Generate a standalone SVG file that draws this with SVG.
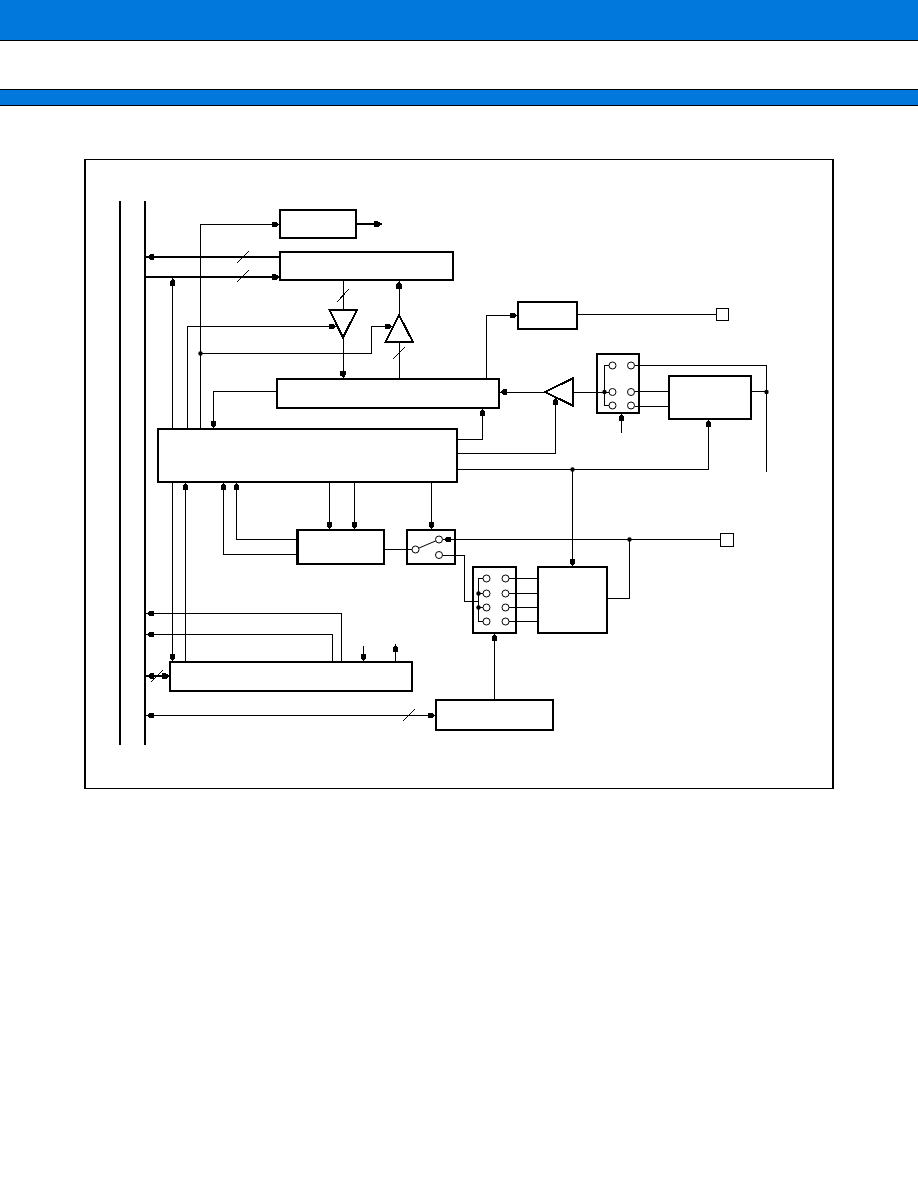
<svg xmlns="http://www.w3.org/2000/svg" width="918" height="1188" viewBox="0 0 918 1188" shape-rendering="crispEdges">
<style>
.box{fill:#fff;stroke:#000;stroke-width:2}
.sq{fill:#fff;stroke:#000;stroke-width:1}
.w{fill:none;stroke:#000;stroke-width:1}
.t{fill:none;stroke:#000;stroke-width:2}
.a{marker-end:url(#ah)}
.b{marker-start:url(#ahs);marker-end:url(#ah)}
.c{fill:#fff;stroke:#000;stroke-width:1;shape-rendering:auto}
.d{fill:#000;shape-rendering:auto}
.bar{fill:#0078dc;stroke:#000;stroke-width:1}
</style>
<defs>
<marker id="ah" markerUnits="userSpaceOnUse" markerWidth="9" markerHeight="8" refX="8" refY="4" orient="auto"><path d="M0 1.2L4.500 1.500L7 4L4.500 6.500L0 6.800Z" fill="#000"/></marker>
<marker id="ahs" markerUnits="userSpaceOnUse" markerWidth="9" markerHeight="8" refX="8" refY="4" orient="auto-start-reverse"><path d="M0 1.2L4.500 1.500L7 4L4.500 6.500L0 6.800Z" fill="#000"/></marker>
</defs>
<rect width="918" height="1188" fill="#fff"/>
<g id="header">
<rect x="-2" y="-2" width="922" height="42.5" class="bar"/>
<rect x="-2" y="89.5" width="922" height="16" class="bar"/>
</g>
<rect id="frame" x="85" y="159.5" width="748" height="629" fill="none" stroke="#000" stroke-width="1.500"/>
<g id="node-top"><rect class="box" x="280" y="210" width="76" height="28"/></g>
<g id="node-register"><rect class="box" x="280" y="252" width="173" height="28"/></g>
<g id="node-buffer-down"><path class="box" d="M329.500 310H357L343 337.500Z"/></g>
<g id="node-buffer-up"><path class="box" d="M385.500 342H413L399 315Z"/></g>
<g id="node-dac-register"><rect class="box" x="277" y="379" width="222" height="29"/></g>
<g id="node-control"><rect class="box" x="158" y="429" width="299" height="53"/></g>
<g id="node-output"><rect class="box" x="518" y="302" width="59" height="27"/></g>
<g id="node-pin-1"><rect class="sq" x="716" y="308" width="12" height="12"/></g>
<g id="node-comparator"><path class="box" d="M572.500 378.500V405.500L545 392Z"/></g>
<g id="node-mux-1">
<rect class="box" x="597" y="354" width="42" height="59"/>
<circle class="c" cx="612.500" cy="365.500" r="3.500"/><circle class="c" cx="631" cy="365.500" r="3.500"/>
<circle class="c" cx="612.500" cy="392" r="3.500"/><circle class="c" cx="631" cy="392" r="3.500"/>
<circle class="c" cx="612.500" cy="405.500" r="3.500"/><circle class="c" cx="631" cy="405.500" r="3.500"/>
</g>
<g id="node-ladder-1"><rect class="box" x="669" y="376" width="82" height="43"/></g>
<g id="node-timer"><rect class="box" style="stroke-width:2.500" x="297.500" y="530" width="86.500" height="34"/></g>
<g id="node-switch">
<rect class="box" x="407" y="530" width="48" height="34"/>
<path class="w" style="shape-rendering:auto" d="M415.500 549.500L439 539.500"/>
<circle class="c" cx="415.500" cy="549.500" r="3.500"/>
<circle class="c" cx="439" cy="539.500" r="3.500"/>
<circle class="c" cx="439" cy="555" r="3.500"/>
</g>
<g id="node-mux-2">
<rect class="box" x="473" y="567" width="43" height="66"/>
<circle class="c" cx="486.500" cy="578.500" r="3.500"/><circle class="c" cx="505.500" cy="578.500" r="3.500"/>
<circle class="c" cx="486.500" cy="593.500" r="3.500"/><circle class="c" cx="505.500" cy="593.500" r="3.500"/>
<circle class="c" cx="486.500" cy="607.500" r="3.500"/><circle class="c" cx="505.500" cy="607.500" r="3.500"/>
<circle class="c" cx="486.500" cy="621.500" r="3.500"/><circle class="c" cx="505.500" cy="621.500" r="3.500"/>
</g>
<g id="node-ladder-2"><rect class="box" x="538" y="567" width="69" height="66"/></g>
<g id="node-pin-2"><rect class="sq" x="720.500" y="533.500" width="13" height="13"/></g>
<g id="node-interface"><rect class="box" x="170" y="662" width="242" height="29"/></g>
<g id="node-select"><rect class="box" x="436" y="700" width="117" height="30"/></g>
<g id="connectors">
<path class="t" d="M120 201V745M145 201V745"/>
<path class="t a" d="M280 257H146"/>
<path class="t a" d="M146 277H280"/>
<path class="w a" d="M200.500 429V224.500H280"/>
<path class="t a" d="M356 224H382"/>
<path class="w a" d="M172.500 429V277.500"/>
<path class="w a" d="M187.500 429V326.500H337"/>
<path class="w a" d="M200.500 353.500H371.500V326.500H393"/>
<path class="w" d="M343 280V310"/>
<path class="w a" d="M343 337V379"/>
<path class="w" d="M399 379V342"/>
<path class="w a" d="M399 315V280.500"/>
<path class="w a" d="M277 391.500H213.500V429"/>
<path class="w a" d="M486.500 379V315.500H518"/>
<path class="w" d="M577 314.500H716"/>
<path class="w a" d="M545 392H499"/>
<path class="w" d="M572 392H609"/>
<path class="w" d="M609 365.500H604.500V405.500H609"/>
<path class="w" d="M635 365.500H766.500V472"/>
<path class="w" d="M635 391.500H669M635 406.500H669"/>
<path class="w" d="M751 391.500H766.500"/>
<path class="w a" d="M621.500 433V413"/>
<path class="w a" d="M457 439.500H482.500V408"/>
<path class="w a" d="M457 453.500H555.500V397"/>
<path class="w a" d="M457 469.500H708.500V419"/>
<path class="w a" d="M572.500 469.500V567"/>
<path class="w a" d="M172.500 482V662"/>
<path class="w a" d="M185.500 661V482"/>
<path class="w a" d="M297 554.500H223.500V482"/>
<path class="w a" d="M297 539.500H236.500V482"/>
<path class="w a" d="M329.500 482V530"/>
<path class="w a" d="M354.500 482V530"/>
<path class="w a" d="M431.500 482V530"/>
<path class="w" d="M384 549.500H412"/>
<path class="w a" d="M720 539.500H442.500"/>
<path class="w" d="M629.500 539.500V598.500H607"/>
<path class="w" d="M442.500 555.500H464.500V601.500H478"/>
<path class="w" d="M483 578.500H478.500V621.500H483"/>
<path class="w" d="M478.500 593.500H483M478.500 607.500H483"/>
<path class="w" d="M509 578.500H538M509 593.500H538M509 607.500H538M509 621.500H538"/>
<path class="w a" d="M494.500 700V633"/>
<path class="w b" d="M146 715.500H436"/>
<path class="w a" d="M341.500 662V613.500H146"/>
<path class="w a" d="M332.500 662V634.500H146"/>
<path class="w a" d="M363.500 646V662"/>
<path class="w a" d="M395.500 662V644"/>
<path class="t b" d="M146 676H170"/>
<path class="w" d="M237 263L249 251M237 282L249 270M337 302L349 289M393 359L405 347M151 682L163 670M403 721L415 709"/>
<circle class="d" cx="200.500" cy="353.500" r="2.200"/>
<circle class="d" cx="604.500" cy="392" r="2.200"/>
<circle class="d" cx="766.500" cy="392" r="2.200"/>
<circle class="d" cx="572.500" cy="469.500" r="2.200"/>
<circle class="d" cx="629.500" cy="539.500" r="2.200"/>
<circle class="d" cx="478.500" cy="593.500" r="2.200"/>
<circle class="d" cx="478.500" cy="607.500" r="2.200"/>
</g>
</svg>
